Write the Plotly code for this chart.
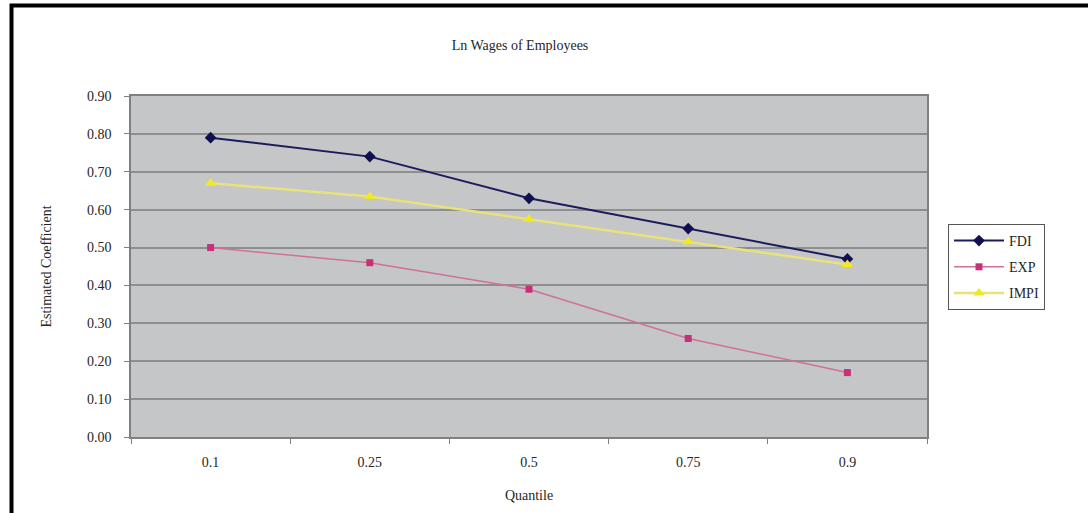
import plotly.graph_objects as go

# Quantile regression coefficients on log wages
quantiles = ["0.1", "0.25", "0.5", "0.75", "0.9"]
fdi = [0.79, 0.74, 0.63, 0.55, 0.47]
exp_ = [0.50, 0.46, 0.39, 0.26, 0.17]
impi = [0.67, 0.635, 0.575, 0.515, 0.455]
y_ticks = [0.0, 0.1, 0.2, 0.3, 0.4, 0.5, 0.6, 0.7, 0.8, 0.9]

W, H = 1088, 513
L, R, T, B = 131, 161, 96, 76
PW, PH = W - L - R, H - T - B

def px_x(px):
    return (px - L) / PW

def px_y(py):
    return (H - B - py) / PH

SERIF = "Liberation Serif, Times New Roman, serif"
TXT = "#262626"

fig = go.Figure()
fig.add_trace(go.Scatter(
    x=quantiles, y=fdi, name="FDI", mode="lines+markers", legendgroup="a",
    line=dict(color="#1c1c5c", width=2),
    marker=dict(symbol="diamond", size=9, color="#101050"),
))
fig.add_trace(go.Scatter(
    x=quantiles, y=exp_, name="EXP", mode="lines+markers", legendgroup="b",
    line=dict(color="#d0709a", width=1.5),
    marker=dict(symbol="square", size=7, color="#c8307a"),
))
fig.add_trace(go.Scatter(
    x=quantiles, y=impi, name="IMPI", mode="lines+markers", legendgroup="c",
    line=dict(color="#e8e27a", width=2.5),
    marker=dict(symbol="triangle-up", size=10, color="#f2ea20"),
))

fig.update_layout(
    width=W, height=H,
    margin=dict(l=L, r=R, t=T, b=B),
    paper_bgcolor="white",
    plot_bgcolor="#c4c6c8",
    font=dict(family=SERIF, size=14, color=TXT),
    title=dict(text="Ln Wages of Employees", x=(520 / W), xanchor="center",
               y=1 - 45 / H, yanchor="middle",
               font=dict(family=SERIF, size=14, color=TXT)),
    showlegend=True,
    legend=dict(
        x=px_x(948), y=px_y(224), xanchor="left", yanchor="top",
        bgcolor="white", bordercolor="#555555", borderwidth=1,
        font=dict(family=SERIF, size=14, color=TXT),
        tracegroupgap=5, itemwidth=50,
    ),
    xaxis=dict(
        type="category", range=[-0.5, 4.5],
        showgrid=False, showline=True, linecolor="#808080", linewidth=1.5,
        mirror=True,
        ticks="outside", tickson="boundaries", ticklen=5, tickcolor="#808080",
        ticklabelstandoff=11,
        tickfont=dict(family=SERIF, size=14, color=TXT),
        title=dict(text="Quantile", standoff=22,
                   font=dict(family=SERIF, size=14, color=TXT)),
        zeroline=False,
    ),
    yaxis=dict(
        range=[0, 0.9], tickvals=y_ticks, tickformat=".2f",
        showgrid=True, gridcolor="#8e8e8e", gridwidth=2,
        showline=True, linecolor="#808080", linewidth=1.5, mirror=True,
        ticks="outside", ticklen=5, tickcolor="#808080",
        ticklabelstandoff=10,
        tickfont=dict(family=SERIF, size=14, color=TXT),
        title=dict(text="Estimated Coefficient", standoff=32,
                   font=dict(family=SERIF, size=14, color=TXT)),
        zeroline=False,
    ),
    shapes=[
        dict(type="rect", xref="paper", yref="paper",
             x0=px_x(11.5), x1=px_x(1110), y0=px_y(540), y1=px_y(5.5),
             line=dict(color="black", width=4), fillcolor="rgba(0,0,0,0)",
             layer="below"),
    ],
)

fig.write_html("out.html")
